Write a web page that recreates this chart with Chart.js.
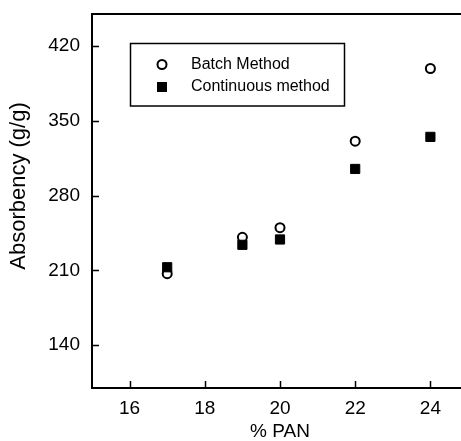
<!DOCTYPE html>
<html>
<head>
<meta charset="utf-8">
<script src="https://cdn.jsdelivr.net/npm/chart.js@4/dist/chart.umd.min.js"></script>
<style>
  html, body { margin: 0; padding: 0; background: #fff; overflow: hidden; }
  canvas { display: block; }
</style>
</head>
<body>
<canvas id="myChart" width="480" height="441"></canvas>
<script>
const pan = [17, 19, 20, 22, 24];
const batch = [207, 241, 250, 331, 399];
const continuous = [213, 234, 239, 305, 335];
const xTicks = [16, 18, 20, 22, 24];
const yTicks = [140, 210, 280, 350, 420];

const FONT = '"Liberation Sans", Arial, sans-serif';

function toPoints(ys) {
    return pan.map((x, i) => ({ x: x, y: ys[i] }));
}

// frame, inward tick marks, legend box and y title
const decor = {
    id: 'decor',
    afterDraw(chart) {
        const ctx = chart.ctx;
        const a = chart.chartArea;
        const xs = chart.scales.x, ys = chart.scales.y;
        ctx.save();
        ctx.strokeStyle = '#000';
        ctx.lineWidth = 2;
        ctx.beginPath();
        ctx.moveTo(a.right, a.top);
        ctx.lineTo(a.left, a.top);
        ctx.lineTo(a.left, a.bottom);
        ctx.lineTo(a.right, a.bottom);
        ctx.stroke();

        ctx.lineWidth = 1.5;
        ctx.beginPath();
        xTicks.forEach(v => {
            const px = Math.round(xs.getPixelForValue(v)) + 0.5;
            ctx.moveTo(px, a.bottom);
            ctx.lineTo(px, a.bottom - 7);
        });
        yTicks.forEach(v => {
            const py = Math.round(ys.getPixelForValue(v)) + 0.5;
            ctx.moveTo(a.left, py);
            ctx.lineTo(a.left + 7, py);
        });
        ctx.stroke();

        // legend
        ctx.lineWidth = 1.5;
        ctx.strokeRect(130.5, 43.5, 214, 62.5);
        ctx.lineWidth = 2;
        ctx.beginPath();
        ctx.arc(162, 64.5, 4.5, 0, Math.PI * 2);
        ctx.stroke();
        ctx.fillStyle = '#000';
        ctx.fillRect(157, 82, 10, 10);
        ctx.font = '16px ' + FONT;
        ctx.textBaseline = 'middle';
        ctx.textAlign = 'left';
        ctx.fillText(chart.data.datasets[0].label, 191, 65);
        ctx.fillText(chart.data.datasets[1].label, 191, 87);

        // y axis title
        ctx.font = '22px ' + FONT;
        ctx.translate(19, 186);
        ctx.rotate(-Math.PI / 2);
        ctx.textAlign = 'center';
        ctx.fillText('Absorbency (g/g)', 0, 0);
        ctx.restore();
    }
};

const graph = {
    type: 'scatter',
    data: {
        datasets: [{
            label: 'Batch Method',
            data: toPoints(batch),
            pointStyle: 'circle',
            pointRadius: 4.5,
            pointBorderWidth: 2,
            borderColor: '#000',
            backgroundColor: '#fff',
            order: 1
        }, {
            label: 'Continuous method',
            data: toPoints(continuous),
            pointStyle: 'rect',
            pointRadius: 6.5,
            pointBorderWidth: 1,
            borderColor: '#000',
            backgroundColor: '#000',
            order: 0
        }]
    },
    options: {
        responsive: false,
        animation: false,
        layout: { padding: { top: 14, right: 12, left: 0, bottom: 0 } },
        plugins: {
            legend: { display: false },
            tooltip: { enabled: false }
        },
        scales: {
            x: {
                type: 'linear',
                min: 15,
                max: 25,
                afterBuildTicks: s => { s.ticks = xTicks.map(v => ({ value: v })); },
                afterFit: s => { s.height = 53; s.paddingLeft = 0; s.paddingRight = 0; },
                grid: { display: false, drawTicks: false },
                border: { display: false },
                ticks: { color: '#000', padding: 9, font: { family: FONT, size: 19 } },
                title: {
                    display: true,
                    text: '% PAN',
                    color: '#000',
                    font: { family: FONT, size: 19, lineHeight: 1 },
                    padding: { top: 0, bottom: 0 }
                }
            },
            y: {
                min: 100,
                max: 450,
                afterBuildTicks: s => { s.ticks = yTicks.map(v => ({ value: v })); },
                afterFit: s => { s.width = 92; s.paddingTop = 0; s.paddingBottom = 0; },
                grid: { display: false, drawTicks: false },
                border: { display: false },
                ticks: { color: '#000', padding: 12, font: { family: FONT, size: 19 } }
            }
        }
    },
    plugins: [decor]
};

const ctx = document.getElementById('myChart').getContext('2d');
const myChart = new Chart(ctx, graph);
</script>
</body>
</html>
